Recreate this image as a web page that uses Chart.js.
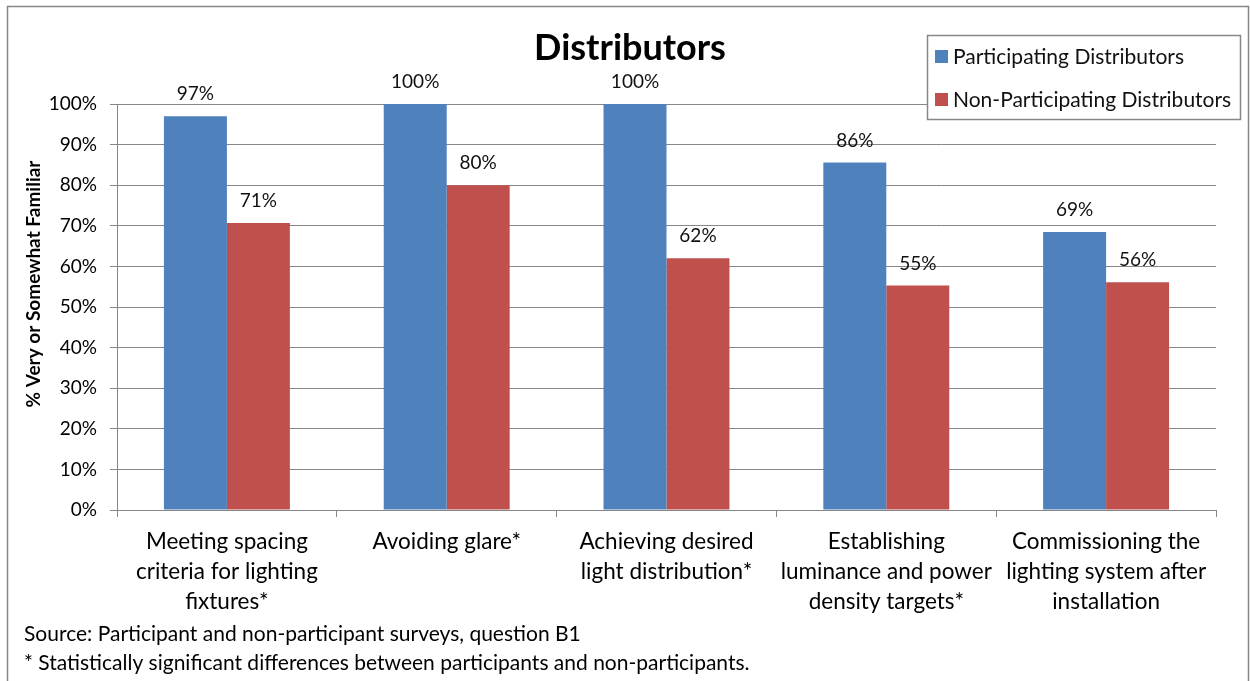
<!DOCTYPE html>
<html><head><meta charset="utf-8">
<script src="https://cdn.jsdelivr.net/npm/chart.js@4/dist/chart.umd.min.js"></script>
<style>html,body{margin:0;padding:0;background:#fff;overflow:hidden}#wrap{width:1250px;height:681px;position:relative}</style>
</head><body><div id="wrap"><canvas id="c" width="1250" height="681"></canvas></div>
<script>
const categories = [
  ["Meeting spacing","criteria for lighting","fixtures*"],
  ["Avoiding glare*"],
  ["Achieving desired","light distribution*"],
  ["Establishing","luminance and power","density targets*"],
  ["Commissioning the","lighting system after","installation"]
];
const participating = [97, 100, 100, 85.6, 68.5];
const nonParticipating = [70.7, 80, 62, 55.3, 56.1];
const yTickValues = [0,10,20,30,40,50,60,70,80,90,100];
const seriesNames = ["Participating Distributors","Non-Participating Distributors"];
const chartTitle = "Distributors";
const yAxisTitle = "% Very or Somewhat Familiar";
const footnotes = [
  "Source: Participant and non-participant surveys, question B1",
  "* Statistically significant differences between participants and non-participants."
];

const FONT = "Lato, 'Open Sans', sans-serif";
const BLUE = "#4F81BD", RED = "#C0504D", GRID = "#878787";

const framePlugin = {
  id: "frame",
  beforeDraw(chart) {
    const ctx = chart.ctx;
    ctx.save();
    ctx.fillStyle = "#fff";
    ctx.fillRect(0, 0, chart.width, chart.height);
    ctx.strokeStyle = GRID;
    ctx.lineWidth = 1.5;
    ctx.strokeRect(7.5, 6.5, 1241, 700);
    ctx.restore();
  },
  afterDraw(chart) {
    const ctx = chart.ctx;
    ctx.save();
    // title
    ctx.fillStyle = "#000";
    ctx.font = "bold 36px " + FONT;
    ctx.textAlign = "center";
    ctx.textBaseline = "middle";
    ctx.fillText(chartTitle, 630, 48);
    // y axis title
    ctx.save();
    ctx.translate(34, 284);
    ctx.rotate(-Math.PI / 2);
    ctx.font = "bold 19px " + FONT;
    ctx.fillText(yAxisTitle, 0, 0);
    ctx.restore();
    // legend
    const lx = 927, ly = 35, lw = 313, lh = 84;
    ctx.fillStyle = "#fff";
    ctx.fillRect(lx, ly, lw, lh);
    ctx.strokeStyle = GRID;
    ctx.lineWidth = 1.5;
    ctx.strokeRect(lx + 0.5, ly + 0.5, lw, lh);
    ctx.font = "21px " + FONT;
    ctx.textAlign = "left";
    chart.data.datasets.forEach((ds, i) => {
      const cy = 56 + i * 43;
      ctx.fillStyle = ds.backgroundColor;
      ctx.fillRect(935, cy - 6, 13, 13);
      ctx.fillStyle = "#111";
      ctx.fillText(ds.label, 953, cy + 1);
    });
    // footnotes
    ctx.font = "21px " + FONT;
    ctx.fillStyle = "#000";
    footnotes.forEach((t, i) => ctx.fillText(t, 24, 634 + i * 29));
    ctx.restore();
  }
};

const labelPlugin = {
  id: "barLabels",
  afterDatasetsDraw(chart) {
    const ctx = chart.ctx;
    ctx.save();
    ctx.font = "19px " + FONT;
    ctx.fillStyle = "#111";
    ctx.textAlign = "center";
    ctx.textBaseline = "middle";
    chart.data.datasets.forEach((ds, di) => {
      const meta = chart.getDatasetMeta(di);
      meta.data.forEach((bar, i) => {
        ctx.fillText(Math.round(ds.data[i]) + "%", bar.x, bar.y - 22);
      });
    });
    ctx.restore();
  }
};

new Chart(document.getElementById("c"), {
  type: "bar",
  data: {
    labels: categories,
    datasets: [
      { label: seriesNames[0], data: participating, backgroundColor: BLUE },
      { label: seriesNames[1], data: nonParticipating, backgroundColor: RED }
    ]
  },
  options: {
    responsive: false,
    animation: false,
    devicePixelRatio: 1,
    layout: { padding: { left: 10, top: 104, right: 34, bottom: 0 } },
    datasets: { bar: { categoryPercentage: 0.573, barPercentage: 1 } },
    plugins: { legend: { display: false }, title: { display: false }, tooltip: { enabled: false } },
    scales: {
      x: {
        afterFit(s) { s.height = 171; },
        grid: { display: true, drawOnChartArea: false, color: GRID, tickLength: 7, offset: true },
        border: { color: GRID, width: 1 },
        ticks: { color: "#000", font: { family: FONT, size: 22.5, lineHeight: 30 / 22.5 }, padding: 10, maxRotation: 0, autoSkip: false }
      },
      y: {
        min: 0, max: 100,
        afterFit(s) { s.width = 107; },
        afterBuildTicks(s) { s.ticks = yTickValues.map(v => ({ value: v })); },
        grid: { color: GRID, tickLength: 7 },
        border: { color: GRID, width: 1 },
        ticks: { color: "#000", font: { family: FONT, size: 19 }, padding: 13, callback: v => v + "%" },
        title: { display: false }
      }
    }
  },
  plugins: [framePlugin, labelPlugin]
});
</script>
</body></html>
